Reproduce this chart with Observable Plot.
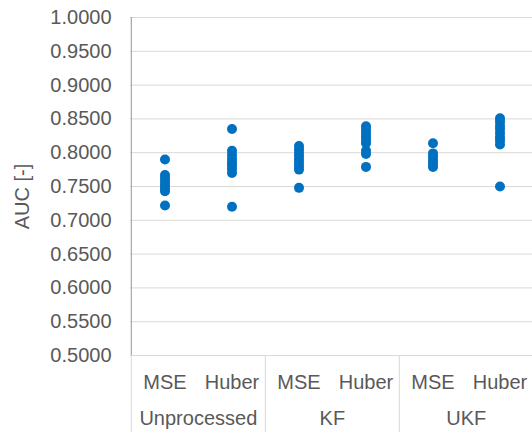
<!DOCTYPE html>
<html>
<head>
<meta charset="utf-8">
<script src="https://cdn.jsdelivr.net/npm/d3@7"></script>
<script src="https://cdn.jsdelivr.net/npm/@observablehq/plot@0.6"></script>
<style>
  body { margin: 0; background: #fff; }
  #chart svg { display: block; }
</style>
</head>
<body>
<div id="chart"></div>
<script>
// Preprocessing methods (outer category) and loss functions (inner category)
const methods = ["Unprocessed", "KF", "UKF"];
const losses = ["MSE", "Huber"];

// AUC per run, one list per method/loss combination
const unprocessedMSE   = [0.790, 0.767, 0.762, 0.757, 0.752, 0.747, 0.743, 0.722];
const unprocessedHuber = [0.835, 0.803, 0.797, 0.791, 0.786, 0.781, 0.776, 0.770, 0.720];
const kfMSE            = [0.810, 0.805, 0.800, 0.795, 0.790, 0.785, 0.780, 0.775, 0.748];
const kfHuber          = [0.839, 0.834, 0.829, 0.824, 0.819, 0.814, 0.803, 0.798, 0.779];
const ukfMSE           = [0.814, 0.799, 0.794, 0.789, 0.784, 0.779];
const ukfHuber         = [0.851, 0.846, 0.840, 0.835, 0.829, 0.823, 0.818, 0.812, 0.750];

// Y axis ticks
const yTicks = [0.50, 0.55, 0.60, 0.65, 0.70, 0.75, 0.80, 0.85, 0.90, 0.95, 1.00];

const series = [
  ["Unprocessed", "MSE", unprocessedMSE],
  ["Unprocessed", "Huber", unprocessedHuber],
  ["KF", "MSE", kfMSE],
  ["KF", "Huber", kfHuber],
  ["UKF", "MSE", ukfMSE],
  ["UKF", "Huber", ukfHuber]
];

const keyOf = (m, l) => `${m} ${l}`;
const slots = methods.flatMap(m => losses.map(l => ({method: m, loss: l, key: keyOf(m, l)})));
const points = series.flatMap(([m, l, vals]) => vals.map(v => ({key: keyOf(m, l), auc: v})));

const W = 532, H = 432;
const mL = 130, mR = -2, mT = 17, mB = 77;
const band = (W - mL - mR) / slots.length;

const font = "Liberation Sans, Arial, Helvetica, sans-serif";
const textColor = "#595959";
const fs = 20;

const chart = Plot.plot({
  width: W,
  height: H,
  marginLeft: mL,
  marginRight: mR,
  marginTop: mT,
  marginBottom: mB,
  style: {fontFamily: font, fontSize: `${fs}px`, color: textColor, background: "#fff", overflow: "visible"},
  x: {type: "band", domain: slots.map(d => d.key), padding: 0, axis: null},
  y: {domain: [0.5, 1.0], axis: null},
  marks: [
    // horizontal gridlines
    Plot.ruleY(yTicks, {stroke: "#d9d9d9", strokeWidth: 1}),
    // y axis tick labels
    Plot.text(yTicks, {
      y: d => d, frameAnchor: "left", dx: -19, textAnchor: "end",
      text: d => d3.format(".4f")(d), fill: textColor, fontSize: fs
    }),
    // y axis title
    Plot.text(["AUC [-]"], {
      frameAnchor: "left", dx: -108, dy: 10, rotate: -90,
      textAnchor: "middle", lineAnchor: "middle", fill: textColor, fontSize: fs
    }),
    // category table lines below the plot
    Plot.ruleX([slots[0].key], {x: d => d, y1: 0.5, y2: 0.5, insetBottom: -mB, dx: -band / 2, stroke: "#d9d9d9"}),
    Plot.ruleX(slots.filter(d => d.loss === losses[0] && d.method !== methods[0]), {
      x: "key", y1: 0.5, y2: 0.5, insetBottom: -mB, dx: -band / 2, stroke: "#d9d9d9"
    }),
    // left axis line
    Plot.ruleX([slots[0].key], {x: d => d, dx: -band / 2, stroke: "#a6a6a6", strokeWidth: 1.2}),
    // data points
    Plot.dot(points, {x: "key", y: "auc", r: 5, fill: "#0070c0", stroke: "none"}),
    // inner category labels
    Plot.text(slots, {
      x: "key", text: "loss", frameAnchor: "bottom", dy: 27,
      lineAnchor: "middle", fill: textColor, fontSize: fs
    }),
    // outer category labels, centred on each pair of slots
    Plot.text(slots.filter(d => d.loss === losses[1]), {
      x: "key", text: "method", frameAnchor: "bottom", dx: -band / 2, dy: 63,
      lineAnchor: "middle", fill: textColor, fontSize: fs
    })
  ]
});

document.getElementById("chart").appendChild(chart);
</script>
</body>
</html>
